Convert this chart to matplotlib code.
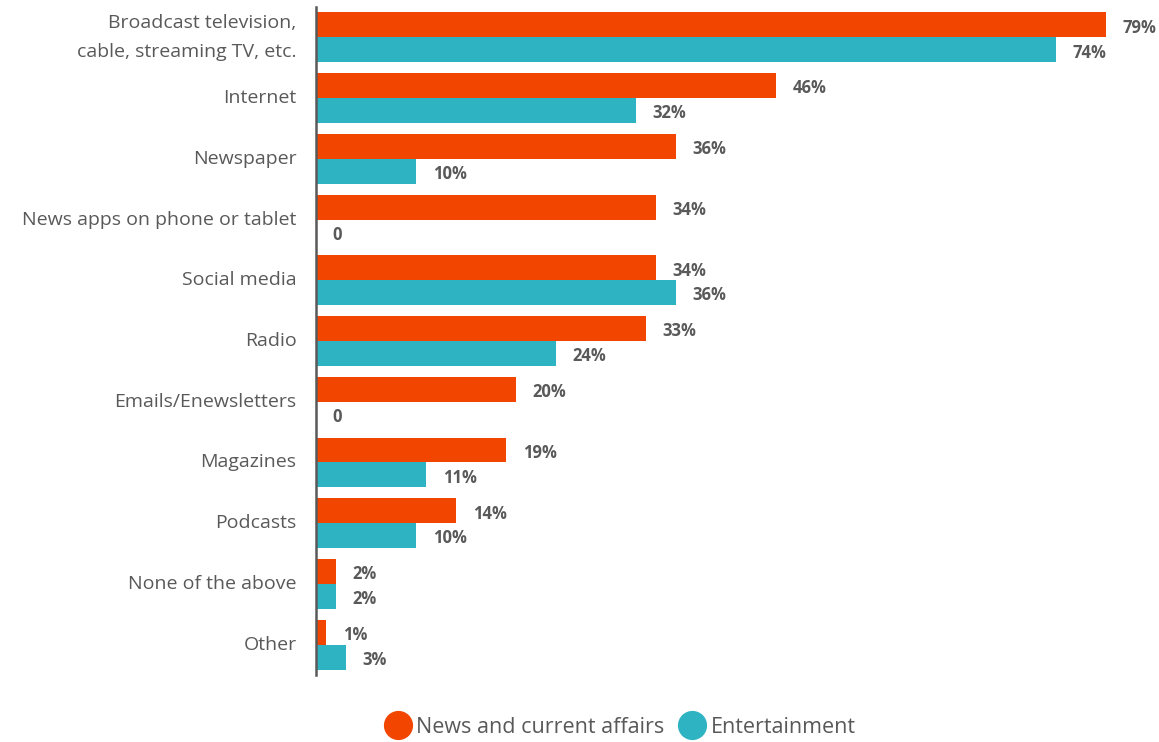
import matplotlib.pyplot as plt
import numpy as np
from matplotlib.lines import Line2D

plt.rcParams['font.family'] = ['Open Sans', 'DejaVu Sans']

categories = ['Broadcast television,\ncable, streaming TV, etc.', 'Internet', 'Newspaper',
              'News apps on phone or tablet', 'Social media', 'Radio', 'Emails/Enewsletters',
              'Magazines', 'Podcasts', 'None of the above', 'Other']
news = [79, 46, 36, 34, 34, 33, 20, 19, 14, 2, 1]
entertainment = [74, 32, 10, 0, 36, 24, 0, 11, 10, 2, 3]
news_labels = ['79%', '46%', '36%', '34%', '34%', '33%', '20%', '19%', '14%', '2%', '1%']
ent_labels = ['74%', '32%', '10%', '0', '36%', '24%', '0', '11%', '10%', '2%', '3%']

orange = '#F24600'
teal = '#2EB3C3'
grey = '#595959'

fig = plt.figure(figsize=(11.59, 7.42), dpi=100)
ax = fig.add_axes([0.2726, 0.0903, 0.7248, 0.9003])

y = np.arange(len(categories))
h = 0.41
ax.barh(y - h / 2, news, height=h, color=orange)
ax.barh(y + h / 2, entertainment, height=h, color=teal)

for i in range(len(categories)):
    ax.annotate(news_labels[i], (news[i], y[i] - h / 2), xytext=(12, -2),
                textcoords='offset points', va='center', ha='left',
                fontsize=12, fontweight='bold', color=grey)
    ax.annotate(ent_labels[i], (entertainment[i], y[i] + h / 2), xytext=(12, -2),
                textcoords='offset points', va='center', ha='left',
                fontsize=12, fontweight='bold', color=grey)

ax.set_ylim(len(categories) - 0.5, -0.5)
ax.set_xlim(0, 84)
ax.set_yticks(y)
ax.set_yticklabels(categories, fontsize=14, color=grey, linespacing=1.75)
for lbl in ax.get_yticklabels():
    lbl.set_verticalalignment('center')
ax.tick_params(axis='y', length=0, pad=14)
ax.set_xticks([])
for s in ['top', 'right', 'bottom']:
    ax.spines[s].set_visible(False)
ax.spines['left'].set_color(grey)
ax.spines['left'].set_linewidth(1.8)

handles = [Line2D([], [], marker='o', linestyle='', markersize=20, color=orange),
           Line2D([], [], marker='o', linestyle='', markersize=20, color=teal)]
fig.legend(handles, ['News and current affairs', 'Entertainment'], loc='center',
           bbox_to_anchor=(0.535, 0.02), ncol=2, frameon=False, fontsize=15.5,
           labelcolor=grey, handletextpad=0.25, columnspacing=0.7, handlelength=1.2)

fig.savefig('out.png', dpi=100)
